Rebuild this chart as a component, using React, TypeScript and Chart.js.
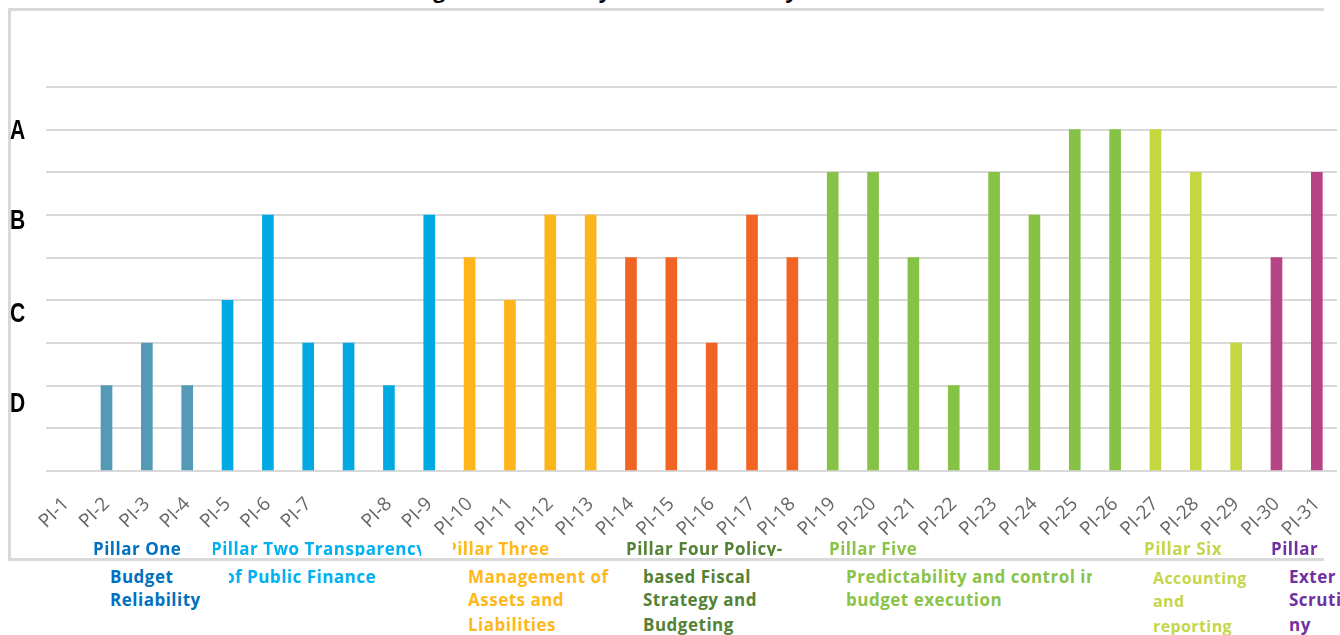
import React, { useEffect, useRef } from "react";
import { Chart, registerables } from "chart.js";

Chart.register(...registerables);

// ---------------- data ----------------
const categories = [
  "PI-1", "PI-2", "PI-3", "PI-4", "PI-5", "PI-6", "PI-7", "",
  "PI-8", "PI-9", "PI-10", "PI-11", "PI-12", "PI-13", "PI-14", "PI-15",
  "PI-16", "PI-17", "PI-18", "PI-19", "PI-20", "PI-21", "PI-22", "PI-23",
  "PI-24", "PI-25", "PI-26", "PI-27", "PI-28", "PI-29", "PI-30", "PI-31",
];

// score scale: D=2, D+=3, C=4, C+=5, B=6, B+=7, A=8 (first slot empty as drawn)
const scores: (number | null)[] = [
  null, 2, 3, 2, 4, 6, 3, 3, 2, 6,
  5, 4, 6, 6,
  5, 5, 3, 6, 5,
  7, 7, 5, 2, 7, 6, 8, 8,
  8, 7, 3,
  5, 7,
];

const pillarSizes = [3, 6, 4, 5, 8, 3, 2];
const pillarBarColors = ["#5499B5", "#00A9E2", "#FDB51B", "#F26424", "#86C246", "#C4D73F", "#B54386"];

const gradeLetters = ["A", "B", "C", "D"];
const gradeLevels = [8, 6, 4, 2];

const chartTitle = "Figure 1: Summary of PEFA Scores by Indicator";

const pillarHeadings = [
  "Pillar One",
  "Pillar Two Transparency",
  "Pillar Three",
  "Pillar Four Policy-",
  "Pillar Five",
  "Pillar Six",
  "Pillar",
];
const pillarSubtitles = [
  ["Budget", "Reliability"],
  ["of Public Finance"],
  ["Management of", "Assets and", "Liabilities"],
  ["based Fiscal", "Strategy and", "Budgeting"],
  ["Predictability and control in", "budget execution"],
  ["Accounting", "and", "reporting"],
  ["Exter", "Scruti", "ny"],
];
const pillarTextColors = ["#0070C0", "#00B0F0", "#FFB81C", "#548235", "#8BC34A", "#C5D64A", "#7030A0"];

// ---------------- layout (not data) ----------------
const headingLayout = [
  { x: 93, clipL: 0, clipR: 1340 },
  { x: 211, clipL: 213, clipR: 421 },
  { x: 446, clipL: 453, clipR: 1340 },
  { x: 626, clipL: 0, clipR: 1340 },
  { x: 829, clipL: 0, clipR: 1340 },
  { x: 1144, clipL: 0, clipR: 1340 },
  { x: 1271, clipL: 0, clipR: 1340 },
];
const subtitleLayout = [
  { x: 110, clipL: 0, clipR: 1340, size: 17 },
  { x: 224, clipL: 229, clipR: 1340, size: 17 },
  { x: 468, clipL: 0, clipR: 609, size: 17 },
  { x: 643, clipL: 0, clipR: 1340, size: 17 },
  { x: 846, clipL: 0, clipR: 1092, size: 17 },
  { x: 1153, clipL: 0, clipR: 1340, size: 16 },
  { x: 1289, clipL: 0, clipR: 1340, size: 17 },
];
const rowBaselines = [556, 584, 607, 632];
const gradeShift = [2, 7, 14, 19];

const gradePlugin = {
  id: "gradeLetters",
  afterDraw(chart: any) {
    const ctx = chart.ctx;
    const y = chart.scales.y;
    ctx.save();
    ctx.fillStyle = "#000000";
    ctx.font = "bold 27px 'Liberation Sans'";
    ctx.textBaseline = "middle";
    ctx.textAlign = "left";
    gradeLetters.forEach((letter, i) => {
      const py = y.getPixelForValue(gradeLevels[i]) + gradeShift[i];
      ctx.save();
      ctx.translate(10, py);
      ctx.scale(0.78, 1);
      ctx.fillText(letter, 0, 0);
      ctx.restore();
    });
    ctx.restore();
  },
};

const FONT = "'Open Sans', 'Noto Sans', sans-serif";

function ClippedLine(props: {
  text: string; x: number; baseline: number; size: number; color: string; clipL: number; clipR: number; clipBottom?: number;
}) {
  const { text, x, baseline, size, color, clipL, clipR, clipBottom } = props;
  const lineH = Math.round(size * 1.4);
  const top = baseline - (lineH - size * 1.362) / 2 - size * 1.069;
  const height = clipBottom !== undefined ? clipBottom - top : lineH;
  return (
    <div
      style={{
        position: "absolute",
        left: clipL,
        top,
        width: clipR - clipL,
        height,
        overflow: "hidden",
      }}
    >
      <div
        style={{
          position: "absolute",
          left: x - clipL,
          top: 0,
          whiteSpace: "nowrap",
          fontFamily: FONT,
          fontWeight: 700,
          fontSize: size,
          lineHeight: lineH + "px",
          color,
          letterSpacing: size === 16 ? "0.4px" : "0.5px",
        }}
      >
        {text}
      </div>
    </div>
  );
}

export default function App() {
  const ref = useRef<HTMLCanvasElement>(null);

  useEffect(() => {
    const barColors: string[] = ["rgba(0,0,0,0)"];
    pillarSizes.forEach((n, i) => {
      for (let k = 0; k < n; k++) barColors.push(pillarBarColors[i]);
    });
    const chart = new Chart(ref.current as HTMLCanvasElement, {
      type: "bar",
      data: {
        labels: categories,
        datasets: [
          {
            data: scores as any,
            backgroundColor: barColors,
            barThickness: 11,
            borderWidth: 0,
          },
        ],
      },
      options: {
        animation: false,
        responsive: false,
        layout: { padding: { left: 46, right: 3, top: 87, bottom: 0 } },
        plugins: {
          legend: { display: false },
          tooltip: { enabled: false },
          title: { display: false },
        },
        scales: {
          x: {
            grid: { display: false, drawTicks: false },
            border: { display: false },
            ticks: {
              color: "#666666",
              font: { family: "'Open Sans'", size: 19 },
              minRotation: 45,
              maxRotation: 45,
              autoSkip: false,
              padding: 22,
            },
            afterFit: (s: any) => {
              s.height = 89;
              s.paddingLeft = 0;
              s.paddingRight = 0;
            },
          },
          y: {
            min: 0,
            max: 9,
            ticks: { display: false, stepSize: 1 },
            grid: { color: "#D9D9D9", lineWidth: 2, drawTicks: false },
            border: { display: false },
            afterFit: (s: any) => {
              s.width = 0;
            },
          },
        },
      },
      plugins: [gradePlugin],
    });
    return () => chart.destroy();
  }, []);

  return (
    <div
      style={{
        position: "fixed",
        left: 0,
        top: 0,
        width: 1340,
        height: 635,
        overflow: "hidden",
        background: "#FFFFFF",
      }}
    >
      {/* frame */}
      <div
        style={{
          position: "absolute",
          left: 8,
          top: 8,
          width: 1313,
          height: 547,
          borderLeft: "3px solid #D9D9D9",
          borderTop: "3px solid #D9D9D9",
          borderBottom: "3px solid #D9D9D9",
        }}
      />
      {/* title (mostly above the visible area) */}
      <div
        style={{
          position: "absolute",
          left: 0,
          width: 1314,
          top: -24,
          textAlign: "center",
          fontFamily: FONT,
          fontWeight: 700,
          fontSize: 21,
          lineHeight: "28px",
          color: "#000000",
          whiteSpace: "nowrap",
        }}
      >
        {chartTitle}
      </div>
      <canvas
        ref={ref}
        width={1340}
        height={560}
        style={{ position: "absolute", left: 0, top: 0, width: 1340, height: 560 }}
      />
      {pillarHeadings.map((h, i) => (
        <ClippedLine
          key={"h" + i}
          text={h}
          x={headingLayout[i].x}
          baseline={rowBaselines[0]}
          size={17}
          color={pillarTextColors[i]}
          clipL={headingLayout[i].clipL}
          clipR={headingLayout[i].clipR}
          clipBottom={556}
        />
      ))}
      {pillarSubtitles.map((lines, i) =>
        lines.map((t, j) => (
          <ClippedLine
            key={"s" + i + "-" + j}
            text={t}
            x={subtitleLayout[i].x}
            baseline={rowBaselines[j + 1]}
            size={subtitleLayout[i].size}
            color={pillarTextColors[i]}
            clipL={subtitleLayout[i].clipL}
            clipR={subtitleLayout[i].clipR}
          />
        ))
      )}
    </div>
  );
}
